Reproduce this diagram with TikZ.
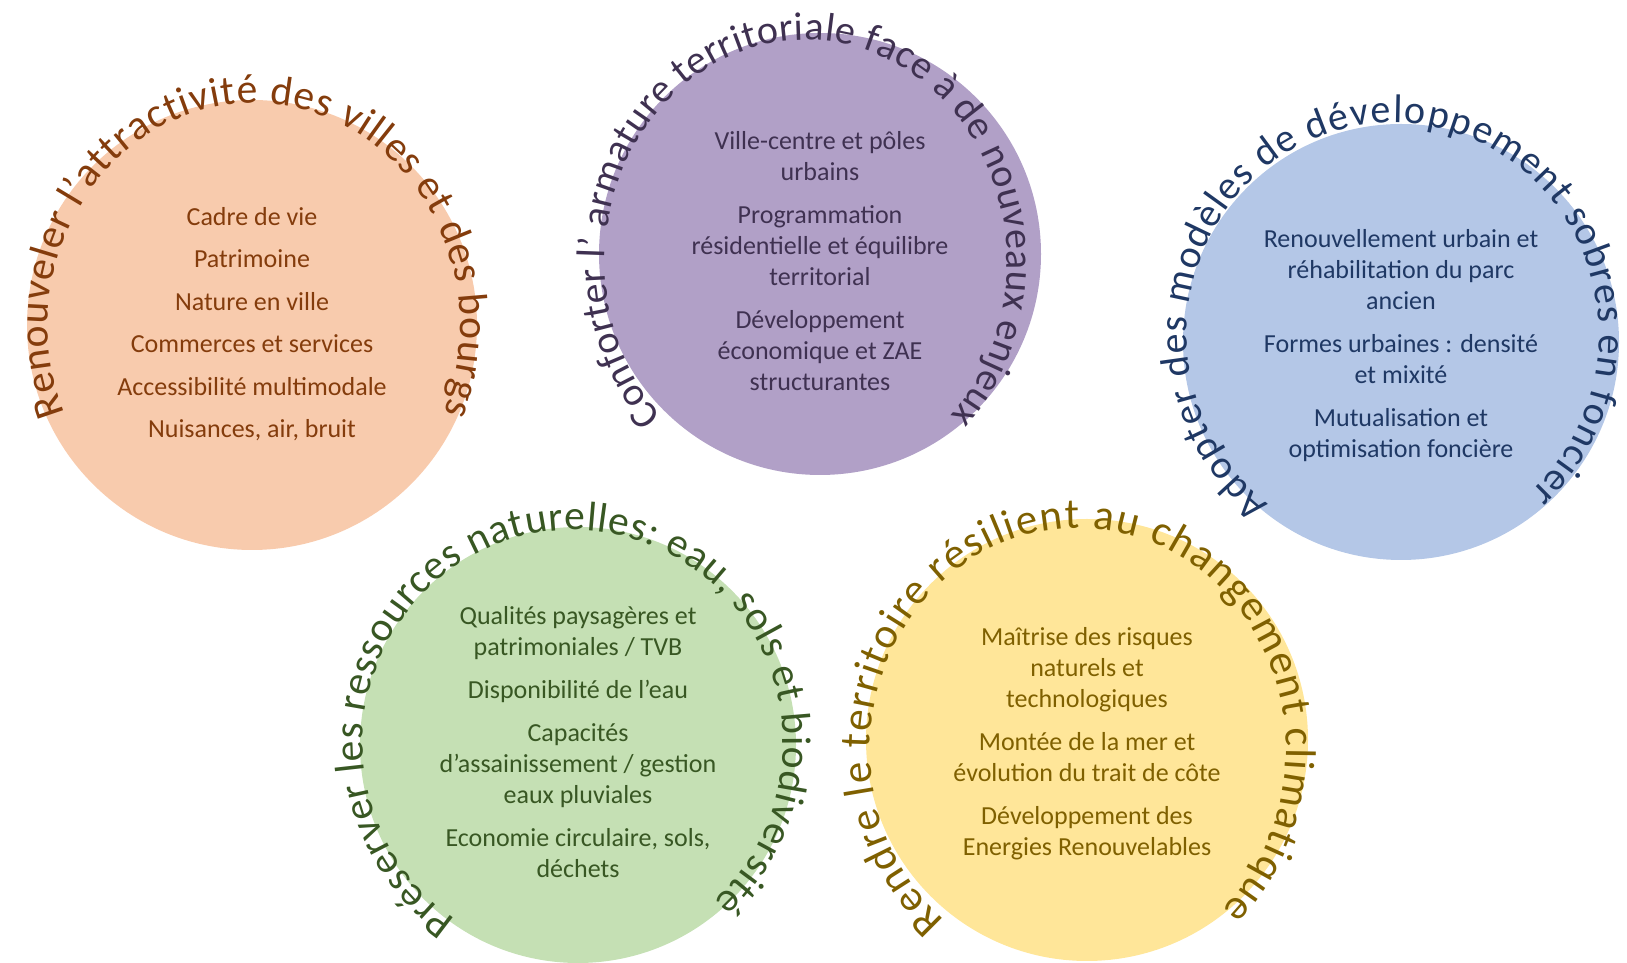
\documentclass[tikz,border=0pt]{standalone}
\usepackage{fontspec}
\setmainfont{Carlito}
\usetikzlibrary{decorations.text}
\definecolor{c1}{HTML}{F8CBAD}\definecolor{t1}{HTML}{843C0C}
\definecolor{c2}{HTML}{B1A0C7}\definecolor{t2}{HTML}{3F3151}
\definecolor{c3}{HTML}{B4C7E7}\definecolor{t3}{HTML}{1F3864}
\definecolor{c4}{HTML}{C5E0B4}\definecolor{t4}{HTML}{385723}
\definecolor{c5}{HTML}{FFE699}\definecolor{t5}{HTML}{7F6000}
\newcommand\archfont[1]{\fontsize{#1}{#1}\selectfont}
\tikzset{
  disc/.style={circle, inner sep=0pt, draw=none},
  items/.style={align=center, font=\fontsize{26}{31}\selectfont},
  arch/.style={decorate, decoration={text along path, text align=fit to path, text={#1}}}
}
\begin{document}
\begin{tikzpicture}[x=1pt,y=1pt]
\useasboundingbox (0,0) rectangle (1627,963);
% discs
\node[disc, fill=c1, minimum size=450pt] (d1) at (252,638) {};
\node[disc, fill=c2, minimum size=442pt] (d2) at (820,709) {};
\node[disc, fill=c3, minimum size=436pt] (d3) at (1401,621) {};
\node[disc, fill=c4, minimum size=436pt] (d4) at (578,218) {};
\node[disc, fill=c5, minimum size=442pt] (d5) at (1087,223) {};
% items
\node[items, text=t1] (l1) at (252,638.7) {Cadre de vie\\[11.5pt]Patrimoine\\[11.5pt]Nature en ville\\[11.5pt]Commerces et services\\[11.5pt]Accessibilité multimodale\\[11.5pt]Nuisances, air, bruit};
\node[items, text=t2] (l2) at (820,702) {Ville-centre et pôles\\urbains\\[12pt]Programmation\\résidentielle et équilibre\\territorial\\[12pt]Développement\\économique et ZAE\\structurantes};
\node[items, text=t3] (l3) at (1401,617) {Renouvellement urbain et\\réhabilitation du parc\\ancien\\[12pt]Formes urbaines : densité\\et mixité\\[12pt]Mutualisation et\\optimisation foncière};
\node[items, text=t4] (l4) at (578,221.3) {Qualités paysagères et\\patrimoniales / TVB\\[12pt]Disponibilité de l’eau\\[12pt]Capacités\\d’assainissement / gestion\\eaux pluviales\\[12pt]Economie circulaire, sols,\\déchets};
\node[items, text=t5] (l5) at (1087,219) {Maîtrise des risques\\naturels et\\technologiques\\[12pt]Montée de la mer et\\évolution du trait de côte\\[12pt]Développement des\\Energies Renouvelables};
% arched titles
\path[arch={|\archfont{41.5}\color{t1}|Renouveler l’attractivité des villes et des bourgs}]
  ([shift={(203:206 and 223)}]254,637) arc[start angle=203, end angle=-23, x radius=206, y radius=223];
\path[arch={|\archfont{40}\color{t2}|Conforter l’ armature territoriale face à de nouveaux enjeux}]
  ([shift={(224:201 and 222)}]806,701) arc[start angle=224, end angle=-44, x radius=201, y radius=222];
\path[arch={|\archfont{40}\color{t3}|Adopter des modèles de développement sobres en foncier}]
  ([shift={(233:206 and 212)}]1393,628) arc[start angle=233, end angle=-48, x radius=206, y radius=212];
\path[arch={|\archfont{41.5}\color{t4}|Préserver les ressources naturelles: eau, sols et biodiversité}]
  ([shift={(236:210 and 213)}]573,220) arc[start angle=236, end angle=-48, x radius=210, y radius=213];
\path[arch={|\archfont{43}\color{t5}|Rendre le territoire résilient au changement climatique}]
  ([shift={(230:208 and 222)}]1078,213) arc[start angle=230, end angle=-46, x radius=208, y radius=222];
\end{tikzpicture}
\end{document}
